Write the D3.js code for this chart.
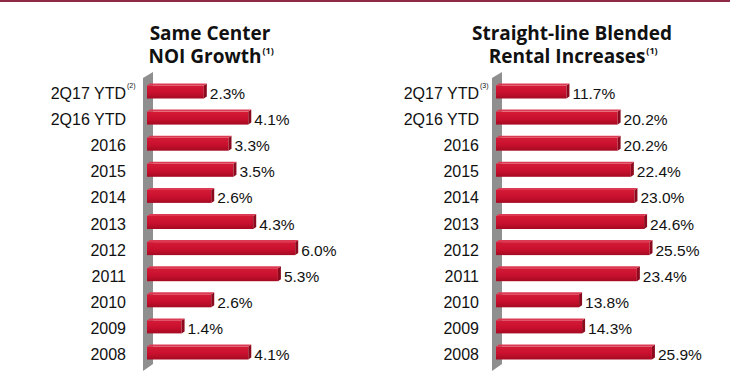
<!DOCTYPE html>
<html>
<head>
<meta charset="utf-8">
<script src="https://cdn.jsdelivr.net/npm/d3@7"></script>
<style>
  body { margin: 0; background: #fff; }
  svg { display: block; }
</style>
</head>
<body>
<div id="chart"></div>
<script>
// datos
var categories = ["2Q17 YTD", "2Q16 YTD", "2016", "2015", "2014", "2013", "2012", "2011", "2010", "2009", "2008"];
var noiGrowth = [2.3, 4.1, 3.3, 3.5, 2.6, 4.3, 6.0, 5.3, 2.6, 1.4, 4.1];
var rentalIncreases = [11.7, 20.2, 20.2, 22.4, 23.0, 24.6, 25.5, 23.4, 13.8, 14.3, 25.9];
var noiLabels = ["2.3%", "4.1%", "3.3%", "3.5%", "2.6%", "4.3%", "6.0%", "5.3%", "2.6%", "1.4%", "4.1%"];
var rentalLabels = ["11.7%", "20.2%", "20.2%", "22.4%", "23.0%", "24.6%", "25.5%", "23.4%", "13.8%", "14.3%", "25.9%"];

var width = 730, height = 373;

var svg = d3.select("#chart")
  .append("svg")
  .attr("width", width)
  .attr("height", height);

// linea superior
svg.append("rect")
  .attr("x", 0).attr("y", 0)
  .attr("width", width).attr("height", 2)
  .attr("fill", "#8e2a46");

var defs = svg.append("defs");
var grad = defs.append("linearGradient")
  .attr("id", "barGrad")
  .attr("x1", 0).attr("y1", 0).attr("x2", 0).attr("y2", 1);
grad.append("stop").attr("offset", "0%").attr("stop-color", "#d41a36");
grad.append("stop").attr("offset", "55%").attr("stop-color", "#c8102e");
grad.append("stop").attr("offset", "100%").attr("stop-color", "#a50a22");

var y = d3.scalePoint()
  .domain(categories)
  .range([92, 353]);

var barH = 13;
var fontTxt = "'Liberation Sans', Arial, sans-serif";

function panel(opts) {
  var g = svg.append("g");

  var x = d3.scaleLinear()
    .domain(opts.domain)
    .range(opts.range);

  var x0 = x(0);

  // titulo
  g.append("text")
    .attr("x", opts.titleX).attr("y", 40)
    .attr("text-anchor", "middle")
    .style("font-family", "'Open Sans', sans-serif")
    .style("font-weight", 700)
    .style("font-size", "19px")
    .attr("fill", "#111")
    .text(opts.title[0]);

  var l2 = g.append("text")
    .attr("x", opts.titleX - 5).attr("y", 63)
    .attr("text-anchor", "middle")
    .style("font-family", "'Open Sans', sans-serif")
    .style("font-weight", 700)
    .style("font-size", "19px")
    .attr("fill", "#111")
    .text(opts.title[1]);
  var w2 = l2.node().getComputedTextLength();

  g.append("text")
    .attr("x", opts.titleX - 5 + w2 / 2 + 1)
    .attr("y", 54)
    .style("font-family", "'Open Sans', sans-serif")
    .style("font-weight", 700)
    .style("font-size", "9px")
    .attr("fill", "#111")
    .text("(1)");

  // pared gris (eje 3d)
  g.append("polygon")
    .attr("points", [
      [x0 - 4, 78], [x0 + 6, 72], [x0 + 6, 364], [x0 - 4, 371]
    ].map(function(p) { return p.join(","); }).join(" "))
    .attr("fill", "#8f8f8f");

  // barras
  var bars = g.selectAll(".bar")
    .data(opts.values)
    .enter()
    .append("g");

  bars.append("rect")
    .attr("x", x0)
    .attr("y", function(d, i) { return y(categories[i]) - barH / 2; })
    .attr("width", function(d) { return x(d) - x0; })
    .attr("height", barH)
    .attr("fill", "url(#barGrad)");

  // bisel derecho
  bars.append("polygon")
    .attr("points", function(d, i) {
      var xe = x(d), yt = y(categories[i]) - barH / 2;
      return [[xe, yt], [xe + 3, yt - 2], [xe + 3, yt + barH - 2], [xe, yt + barH]]
        .map(function(p) { return p.join(","); }).join(" ");
    })
    .attr("fill", "#8c0a1e");

  // borde superior
  bars.append("polygon")
    .attr("points", function(d, i) {
      var xe = x(d), yt = y(categories[i]) - barH / 2;
      return [[x0, yt], [x0 + 3, yt - 2], [xe + 3, yt - 2], [xe, yt]]
        .map(function(p) { return p.join(","); }).join(" ");
    })
    .attr("fill", "#dc3a52");

  // etiquetas de valor
  g.selectAll(".val")
    .data(opts.values)
    .enter()
    .append("text")
    .attr("x", function(d) { return x(d) + 6; })
    .attr("y", function(d, i) { return y(categories[i]) + 7; })
    .style("font-family", fontTxt)
    .style("font-size", "15.5px")
    .attr("fill", "#111")
    .text(function(d, i) { return opts.labels[i]; });

  // categorias
  g.selectAll(".cat")
    .data(categories)
    .enter()
    .append("text")
    .attr("x", opts.labelX)
    .attr("y", function(d) { return y(d) + 7; })
    .attr("text-anchor", "end")
    .style("font-family", fontTxt)
    .style("font-size", "16px")
    .attr("fill", "#111")
    .text(function(d) { return d; });

  // nota al pie del primer renglon
  g.append("text")
    .attr("x", opts.labelX + 1)
    .attr("y", y(categories[0]) - 4)
    .style("font-family", fontTxt)
    .style("font-size", "7px")
    .attr("fill", "#111")
    .text(opts.note);
}

panel({
  values: noiGrowth,
  labels: noiLabels,
  domain: [0, 7],
  range: [147, 147 + 172.9],
  labelX: 126,
  titleX: 210,
  title: ["Same Center", "NOI Growth"],
  note: "(2)"
});

panel({
  values: rentalIncreases,
  labels: rentalLabels,
  domain: [0, 30],
  range: [496, 496 + 180.6],
  labelX: 479,
  titleX: 572,
  title: ["Straight-line Blended", "Rental Increases"],
  note: "(3)"
});
</script>
</body>
</html>
